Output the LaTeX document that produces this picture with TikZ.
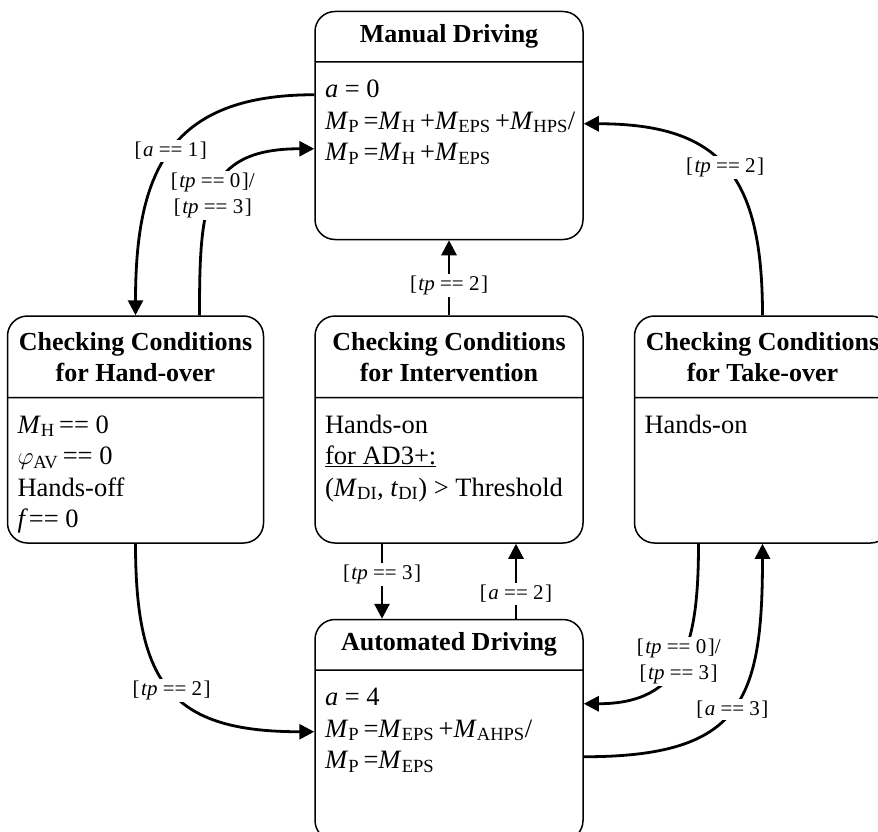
\documentclass[tikz,border=0pt]{standalone}
\usepackage{fontspec}
\setmainfont{Liberation Serif}
\usetikzlibrary{shapes.multipart,arrows.meta,positioning}

% header and body parts of a state box
\newcommand{\sthead}[3]{\parbox[c][#2][c]{#1}{\centering\bfseries
  \fontsize{26}{31}\selectfont #3}}
\newcommand{\stbody}[3]{\parbox[t][#2][t]{#1}{\fontsize{26.5}{31.5}\selectfont
  \raggedright\leftskip=10pt\rule{0pt}{35pt}#3}}
% italic variable with upright index, and a transition guard
\newcommand{\mvar}[2]{\textit{#1}\textsubscript{#2}}
\newcommand{\guard}[2]{[\kern1.5pt\textit{#1}\hspace{0.25em}==\hspace{0.25em}#2\kern1.5pt]}

\tikzset{
  state/.style={rectangle split,rectangle split parts=2,draw,
                line width=1.5pt,rounded corners=20pt,inner sep=0pt},
  trans/.style={-{Triangle[length=15pt,width=15pt]},line width=2.8pt},
  lbl/.style={fill=white,inner sep=2pt,align=center,
              font=\fontsize{21}{26}\selectfont},
}

\begin{document}
\begin{tikzpicture}[x=1pt,y=1pt]

  \path[use as bounding box,fill=white] (0,0) rectangle (878,-832);

  %% ── states ───────────────────────────────────────────────────────────────
  \node[state] (man) at (449,-125.5)
    {\sthead{268pt}{49pt}{Manual Driving}%
     \nodepart{two}\stbody{268pt}{176pt}{\textit{a} = 0\\
       \mvar{M}{P}\,=\mvar{M}{H}\,+\mvar{M}{EPS}\,+\mvar{M}{HPS}/\\
       \mvar{M}{P}\,=\mvar{M}{H}\,+\mvar{M}{EPS}}};

  \node[state,below=75pt of man] (inter)
    {\sthead{268pt}{80pt}{Checking Conditions\\for Intervention}%
     \nodepart{two}\stbody{268pt}{144pt}{Hands-on\\
       \underline{for AD3+:}\\
       (\mvar{M}{DI}, \mvar{t}{DI}) > Threshold}};

  \node[state,left=50pt of inter] (hand)
    {\sthead{256pt}{80pt}{Checking Conditions\\for Hand-over}%
     \nodepart{two}\stbody{256pt}{144pt}{\mvar{M}{H}\,== 0\\
       $\varphi$\textsubscript{AV}\,== 0\\
       Hands-off\\
       \textit{f}\kern1pt== 0}};

  \node[state,right=50pt of inter] (take)
    {\sthead{256pt}{80pt}{Checking Conditions\\for Take-over}%
     \nodepart{two}\stbody{256pt}{144pt}{Hands-on}};

  \node[state,below=75pt of inter] (auto)
    {\sthead{268pt}{49pt}{Automated Driving}%
     \nodepart{two}\stbody{268pt}{169pt}{\textit{a} = 4\\
       \mvar{M}{P}\,=\mvar{M}{EPS}\,+\mvar{M}{AHPS}/\\
       \mvar{M}{P}\,=\mvar{M}{EPS}}};

  %% ── manual <-> hand-over ────────────────────────────────────────────────
  \draw[trans] ([yshift=-84pt]man.north west) to[out=180,in=90,looseness=1.3]
    node[lbl] (ah) {\guard{a}{1}} (hand.north);
  \draw[trans] ([xshift=64pt]hand.north) to[out=90,in=180,looseness=1.4]
    node[lbl,pos=0.47] (hm) {\guard{tp}{0}/\\\guard{tp}{3}}
    ([yshift=-138pt]man.north west);

  %% ── take-over / intervention -> manual ──────────────────────────────────
  \draw[trans] (take.north) to[out=90,in=0,looseness=1.35]
    node[lbl] (tm) {\guard{tp}{2}} ([yshift=-113pt]man.north east);
  \draw[trans] (inter.north) --
    node[lbl,pos=0.4] (im) {\guard{tp}{2}} (man.south);

  %% ── intervention <-> automated ──────────────────────────────────────────
  \draw[trans] ([xshift=-67pt]inter.south) --
    node[lbl,pos=0.41] (ia) {\guard{tp}{3}} ([xshift=-67pt]auto.north);
  \draw[trans] ([xshift=67pt]auto.north) --
    node[lbl,pos=0.33] (ai) {\guard{a}{2}} ([xshift=67pt]inter.south);

  %% ── hand-over / take-over <-> automated ─────────────────────────────────
  \draw[trans] (hand.south) to[out=-90,in=180,looseness=1.4]
    node[lbl] (ha) {\guard{tp}{2}} ([yshift=-113pt]auto.north west);
  \draw[trans] ([xshift=-64pt]take.south) to[out=-90,in=0,looseness=1.3]
    node[lbl] (ta) {\guard{tp}{0}/\\\guard{tp}{3}}
    ([yshift=-85pt]auto.north east);
  \draw[trans] ([yshift=-138pt]auto.north east) to[out=0,in=-90,looseness=1.45]
    node[lbl] (at) {\guard{a}{3}} (take.south);

\end{tikzpicture}
\end{document}
